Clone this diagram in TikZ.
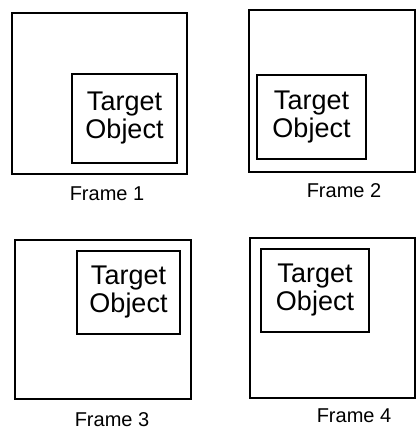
\documentclass[tikz,border=0pt]{standalone}
\usepackage{fontspec}
\setmainfont{Liberation Sans}
\begin{document}
\begin{tikzpicture}[x=1pt,y=-1pt,
  outerbox/.style={draw, line width=1.8pt, inner sep=0pt, fill=none},
  targetbox/.style={draw, line width=1.5pt, inner sep=0pt, align=center,
    font=\fontsize{27}{28}\selectfont},
  framelabel/.style={anchor=base, inner sep=0pt, font=\fontsize{20}{24}\selectfont}]
\useasboundingbox (0,0) rectangle (417,433);
\fill[white] (0,0) rectangle (417,433);
% Frame 1
\node[outerbox, minimum width=175pt, minimum height=161pt] (f1) at (99.5,93.5) {};
\node[targetbox, minimum width=105pt, minimum height=89pt] (t1) at (124.5,118.5) {Target\\Object};
\node[framelabel] (l1) at (107,200) {Frame 1};
% Frame 2
\node[outerbox, minimum width=166pt, minimum height=162pt] (f2) at (332,91) {};
\node[targetbox, minimum width=109pt, minimum height=84pt] (t2) at (311.5,117) {Target\\Object};
\node[framelabel] (l2) at (344,197) {Frame 2};
% Frame 3
\node[outerbox, minimum width=176pt, minimum height=159pt] (f3) at (103,319.5) {};
\node[targetbox, minimum width=103pt, minimum height=83pt] (t3) at (128.5,292.5) {Target\\Object};
\node[framelabel] (l3) at (112,426) {Frame 3};
% Frame 4
\node[outerbox, minimum width=165pt, minimum height=160pt] (f4) at (332.5,318) {};
\node[targetbox, minimum width=108pt, minimum height=83pt] (t4) at (315,290.5) {Target\\Object};
\node[framelabel] (l4) at (354,422) {Frame 4};
\end{tikzpicture}
\end{document}
